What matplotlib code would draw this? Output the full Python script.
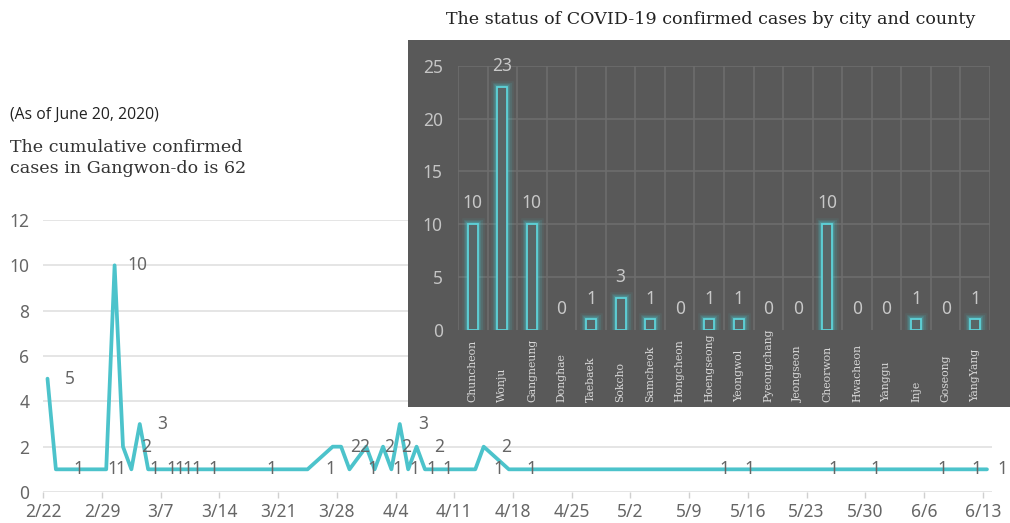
import matplotlib
matplotlib.use("Agg")
import matplotlib.pyplot as plt

# daily confirmed cases, day 0 = 2/22
case_days = [0, 1, 5, 6, 7, 8, 9, 10, 11, 12, 13, 14, 15, 17, 24, 31, 34, 35, 36, 38, 39,
             40, 41, 42, 43, 44, 45, 48, 51, 52, 55, 78, 81, 91, 96, 104, 108, 112]
case_counts = [5, 1, 1, 1, 1, 10, 2, 1, 3, 1, 1, 1, 1, 1, 1, 1, 2, 2, 1, 2, 1,
               2, 1, 3, 1, 2, 1, 1, 1, 2, 1, 1, 1, 1, 1, 1, 1, 1]
unlabelled_days = [7, 48]
tick_labels = ['2/22', '2/29', '3/7', '3/14', '3/21', '3/28', '4/4', '4/11', '4/18',
               '4/25', '5/2', '5/9', '5/16', '5/23', '5/30', '6/6', '6/13']

# cases by city / county
cities = ['Chuncheon', 'Wonju', 'Gangneung', 'Donghae', 'Taebaek', 'Sokcho', 'Samcheok',
          'Hongcheon', 'Hoengseong', 'Yeongwol', 'Pyeongchang', 'Jeongseon', 'Cheorwon',
          'Hwacheon', 'Yanggu', 'Inje', 'Goseong', 'YangYang']
city_cases = [10, 23, 10, 0, 1, 3, 1, 0, 1, 1, 0, 0, 10, 0, 0, 1, 0, 1]

W, H = 1010, 523
teal = '#4CC3CB'
gray = '#666666'
sans = ['Noto Sans', 'DejaVu Sans']
serif = ['DejaVu Serif']


def fx(px):
    return px / W


def fy(py):
    return 1 - py / H


fig = plt.figure(figsize=(W / 100, H / 100), dpi=100)

# ---- line chart ----
ax = fig.add_axes([fx(43.3), fy(492), fx(992 - 43.3), (492 - 220) / H])
ax.plot(case_days, case_counts, color=teal, lw=2.7, solid_joinstyle='round',
        solid_capstyle='round', zorder=3)
for d, c in zip(case_days, case_counts):
    if d in unlabelled_days:
        continue
    dx = 11 if d == case_days[-1] else 16.5
    ax.annotate(str(c), (d, c), xytext=(dx, 0), textcoords='offset points',
                ha='center', va='center', fontsize=12.5, color=gray, family=sans,
                zorder=4)
ax.set_xlim(-0.5, 112.6)
ax.set_ylim(0, 12)
ax.set_yticks(range(0, 13, 2))
ax.set_xticks([7 * k - 0.5 for k in range(len(tick_labels))])
ax.set_xticklabels(tick_labels)
ax.grid(axis='y', color='#e3e3e3', lw=1.3)
ax.set_axisbelow(True)
for s in ax.spines.values():
    s.set_visible(False)
ax.tick_params(axis='y', length=0, pad=10, labelsize=12.5, labelcolor=gray)
ax.tick_params(axis='x', length=4, width=1, color='#d0d0d0', pad=4,
               labelsize=12.5, labelcolor=gray)
for t in ax.get_xticklabels() + ax.get_yticklabels():
    t.set_family(sans)

fig.text(fx(10), fy(115), '(As of June 20, 2020)', fontsize=11.3, color='#222222',
         family=['Open Sans', 'DejaVu Sans'], va='center')
fig.text(fx(10), fy(158), 'The cumulative confirmed\ncases in Gangwon-do is 62',
         fontsize=12.6, color='#333333', family=serif, va='center', linespacing=1.25)

# ---- inset panel ----
panel = fig.add_axes([fx(408), fy(407), fx(1010 - 408), (407 - 40) / H], zorder=5)
panel.set_facecolor('#595959')
panel.set_xticks([])
panel.set_yticks([])
for s in panel.spines.values():
    s.set_visible(False)

fig.text(fx(711), fy(20), 'The status of COVID-19 confirmed cases by city and county',
         fontsize=12.6, color='#222222', family=serif, ha='center', va='center')

bx = fig.add_axes([fx(458), fy(330), fx(990 - 458), (330 - 65.7) / H], zorder=6)
bx.patch.set_alpha(0)
n = len(cities)
bx.set_xlim(-0.5, n - 0.5)
bx.set_ylim(0, 25)
for k in range(n + 1):
    bx.axvline(k - 0.5, color='#6d6d6d', lw=1.2, zorder=1)
for v in range(5, 30, 5):
    bx.axhline(v, color='#6d6d6d', lw=1.2, zorder=1)
xs = list(range(n))
bar_x = [x for x, v in zip(xs, city_cases) if v > 0]
bar_v = [v for v in city_cases if v > 0]
for lw, a in [(9, 0.08), (6.5, 0.12), (4.5, 0.18), (3, 0.25)]:
    bx.bar(bar_x, bar_v, width=0.34, facecolor='none', edgecolor=teal,
           lw=lw, alpha=a, zorder=2)
bx.bar(bar_x, bar_v, width=0.34, facecolor='#596566', edgecolor='#5ED3DA',
       lw=1.3, zorder=3)
for x, v in zip(xs, city_cases):
    bx.annotate(str(v), (x, v), xytext=(0, 15), textcoords='offset points',
                ha='center', va='center', fontsize=12.5, color='#c8c8c8', family=sans)
bx.set_yticks(range(0, 30, 5))
bx.set_xticks([])
bx.tick_params(axis='y', length=0, pad=11, labelsize=12.5, labelcolor='#c4c4c4')
for t in bx.get_yticklabels():
    t.set_family(sans)
for s in bx.spines.values():
    s.set_visible(False)
for x, name in zip(xs, cities):
    bx.annotate(name, (x, 0), xytext=(0, -52), textcoords='offset points',
                rotation=90, ha='center', va='bottom', fontsize=7.8,
                color='#d8d8d8', family=serif, annotation_clip=False)

fig.savefig('out.png', dpi=100)
